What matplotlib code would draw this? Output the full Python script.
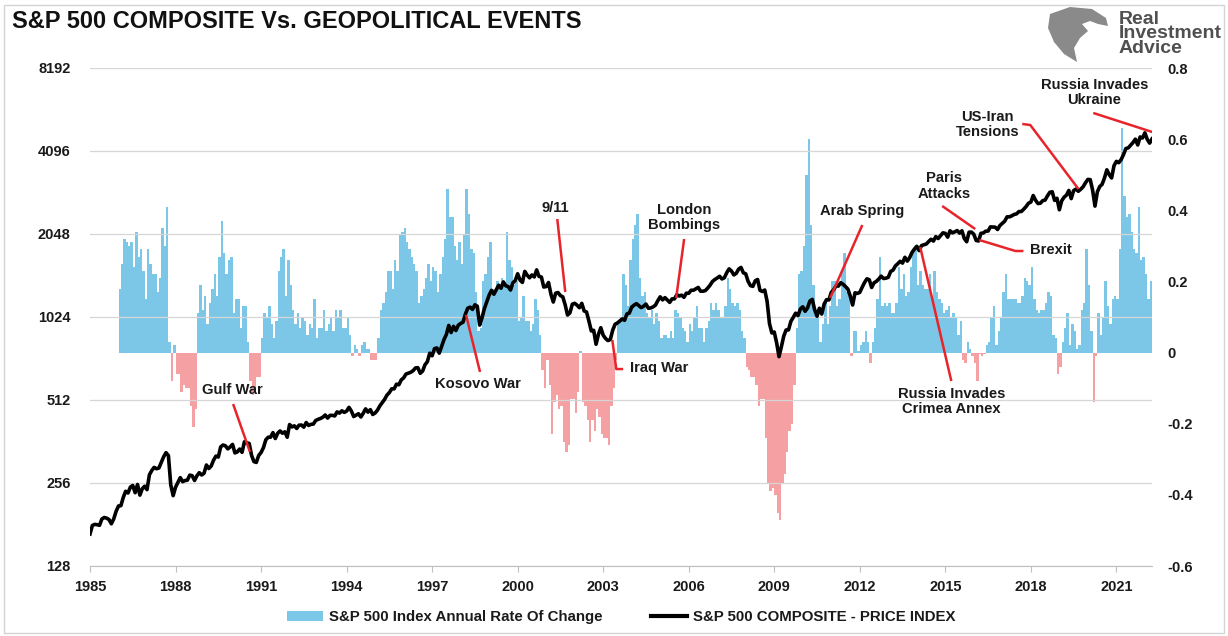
import numpy as np
import matplotlib
matplotlib.use("Agg")
import matplotlib.pyplot as plt
from matplotlib.patches import Patch, Polygon, Rectangle
from matplotlib.lines import Line2D
from matplotlib.ticker import FixedLocator, NullLocator

plt.rcParams['font.family'] = ['Liberation Sans', 'DejaVu Sans']

# === data: S&P 500 month-end closes, Dec 1984 .. Mar 2022 ===
sp500_close = [
    167.2,
    179.6, 181.2, 180.7, 179.8, 189.6, 191.9, 190.9, 188.6, 182.1, 189.8, 202.2, 211.3,   # 1985
    211.8, 226.9, 238.9, 235.5, 247.4, 250.8, 236.1, 252.9, 231.3, 244.0, 249.2, 242.2,   # 1986
    274.1, 284.2, 291.7, 288.4, 290.1, 304.0, 318.7, 329.8, 321.8, 251.8, 230.3, 247.1,   # 1987
    257.1, 267.8, 258.9, 261.3, 262.2, 273.5, 272.0, 261.5, 271.9, 279.0, 273.7, 277.7,   # 1988
    297.5, 288.9, 294.9, 309.6, 320.5, 318.0, 346.1, 351.5, 349.2, 340.4, 346.0, 353.4,   # 1989
    329.1, 331.9, 339.9, 330.8, 361.2, 358.0, 356.2, 322.6, 306.1, 304.0, 322.2, 330.2,   # 1990
    343.9, 367.1, 375.2, 375.3, 389.8, 371.2, 387.8, 395.4, 387.9, 392.5, 375.2, 417.1,   # 1991
    408.8, 412.7, 403.7, 414.9, 415.4, 408.1, 424.2, 414.0, 417.8, 418.7, 431.4, 435.7,   # 1992
    438.8, 443.4, 451.7, 440.2, 450.2, 450.5, 448.1, 463.6, 458.9, 467.8, 461.8, 466.5,   # 1993
    481.6, 467.1, 445.8, 450.9, 456.5, 444.3, 458.3, 475.5, 462.7, 472.4, 453.7, 459.3,   # 1994
    470.4, 487.4, 500.7, 514.7, 533.4, 544.8, 562.1, 561.9, 584.4, 581.5, 605.4, 615.9,   # 1995
    636.0, 640.4, 645.5, 654.2, 669.1, 670.6, 640.0, 652.0, 687.3, 705.3, 757.0, 740.7,   # 1996
    786.2, 790.8, 757.1, 801.3, 848.3, 885.1, 954.3, 899.5, 947.3, 914.6, 955.4, 970.4,   # 1997
    980.3, 1049.3, 1101.8, 1111.8, 1090.8, 1133.8, 1120.7, 957.3, 1017.0, 1098.7, 1163.6, 1229.2,  # 1998
    1279.6, 1238.3, 1286.4, 1335.2, 1301.8, 1372.7, 1328.7, 1320.4, 1282.7, 1362.9, 1388.9, 1469.3,  # 1999
    1394.5, 1366.4, 1498.6, 1452.4, 1420.6, 1454.6, 1430.8, 1517.7, 1436.5, 1429.4, 1315.2, 1320.3,  # 2000
    1366.0, 1239.9, 1160.3, 1249.5, 1255.8, 1224.4, 1211.2, 1133.6, 1040.9, 1059.8, 1139.5, 1148.1,  # 2001
    1130.2, 1106.7, 1147.4, 1076.9, 1067.1, 989.8, 911.6, 916.1, 815.3, 885.8, 936.3, 879.8,   # 2002
    855.7, 841.2, 848.2, 916.9, 963.6, 974.5, 990.3, 1008.0, 996.0, 1050.7, 1058.2, 1111.9,   # 2003
    1131.1, 1144.9, 1126.2, 1107.3, 1120.7, 1140.8, 1101.7, 1104.2, 1114.6, 1130.2, 1173.8, 1211.9,  # 2004
    1181.3, 1203.6, 1180.6, 1156.9, 1191.5, 1191.3, 1234.2, 1220.3, 1228.8, 1207.0, 1249.5, 1248.3,  # 2005
    1280.1, 1280.7, 1294.9, 1310.6, 1270.1, 1270.2, 1276.7, 1303.8, 1335.9, 1377.9, 1400.6, 1418.3,  # 2006
    1438.2, 1406.8, 1420.9, 1482.4, 1530.6, 1503.4, 1455.3, 1474.0, 1526.8, 1549.4, 1481.1, 1468.4,  # 2007
    1378.6, 1330.6, 1322.7, 1385.6, 1400.4, 1280.0, 1267.4, 1282.8, 1166.4, 968.8, 896.2, 903.3,   # 2008
    825.9, 735.1, 797.9, 872.8, 919.1, 919.3, 987.5, 1020.6, 1057.1, 1036.2, 1095.6, 1115.1,   # 2009
    1073.9, 1104.5, 1169.4, 1186.7, 1089.4, 1030.7, 1101.6, 1049.3, 1141.2, 1183.3, 1180.6, 1257.6,  # 2010
    1286.1, 1327.2, 1325.8, 1363.6, 1345.2, 1320.6, 1292.3, 1218.9, 1131.4, 1253.3, 1247.0, 1257.6,  # 2011
    1312.4, 1365.7, 1408.5, 1397.9, 1310.3, 1362.2, 1379.3, 1406.6, 1440.7, 1412.2, 1416.2, 1426.2,  # 2012
    1498.1, 1514.7, 1569.2, 1597.6, 1630.7, 1606.3, 1685.7, 1633.0, 1681.6, 1756.5, 1805.8, 1848.4,  # 2013
    1782.6, 1859.5, 1872.3, 1883.9, 1923.6, 1960.2, 1930.7, 2003.4, 1972.3, 2018.1, 2067.6, 2058.9,  # 2014
    1995.0, 2104.5, 2067.9, 2085.5, 2107.4, 2063.1, 2103.8, 1972.2, 1920.0, 2079.4, 2080.4, 2043.9,  # 2015
    1940.2, 1932.2, 2059.7, 2065.3, 2097.0, 2098.9, 2173.6, 2171.0, 2168.3, 2126.2, 2199.0, 2238.8,  # 2016
    2278.9, 2363.6, 2362.7, 2384.2, 2411.8, 2423.4, 2470.3, 2471.7, 2519.4, 2575.3, 2647.6, 2673.6,  # 2017
    2823.8, 2713.8, 2640.9, 2648.1, 2705.3, 2718.4, 2816.3, 2901.5, 2914.0, 2711.7, 2760.2, 2506.9,  # 2018
    2704.1, 2784.5, 2834.4, 2945.8, 2752.1, 2941.8, 2980.4, 2926.5, 2976.7, 3037.6, 3141.0, 3230.8,  # 2019
    3225.5, 2954.2, 2584.6, 2912.4, 3044.3, 3100.3, 3271.1, 3500.3, 3363.0, 3270.0, 3621.6, 3756.1,  # 2020
    3714.2, 3811.2, 3972.9, 4181.2, 4204.1, 4297.5, 4395.3, 4522.7, 4307.5, 4605.4, 4567.0, 4766.2,  # 2021
    4515.6, 4373.9, 4530.4,                                                                # 2022
]

# === data: annual rate of change, Jan 1986 .. Mar 2022 ===
annual_change = [
    0.18, 0.25, 0.32, 0.31, 0.30, 0.31, 0.24, 0.34, 0.27, 0.29, 0.23, 0.15,    # 1986
    0.29, 0.25, 0.22, 0.22, 0.17, 0.21, 0.35, 0.30, 0.41, 0.03, -0.08, 0.02,   # 1987
    -0.06, -0.06, -0.11, -0.09, -0.10, -0.10, -0.15, -0.21, -0.16, 0.11, 0.19, 0.12,  # 1988
    0.16, 0.08, 0.14, 0.18, 0.22, 0.16, 0.27, 0.37, 0.28, 0.22, 0.26, 0.27,    # 1989
    0.11, 0.15, 0.15, 0.07, 0.13, 0.13, 0.03, -0.08, -0.12, -0.11, -0.07, -0.07,  # 1990
    0.04, 0.11, 0.10, 0.13, 0.08, 0.04, 0.09, 0.23, 0.27, 0.29, 0.16, 0.26,    # 1991
    0.19, 0.12, 0.08, 0.11, 0.07, 0.10, 0.09, 0.05, 0.08, 0.07, 0.15, 0.04,    # 1992
    0.07, 0.07, 0.12, 0.06, 0.08, 0.10, 0.06, 0.12, 0.10, 0.12, 0.07, 0.07,    # 1993
    0.10, 0.05, -0.01, 0.02, 0.01, -0.01, 0.02, 0.03, 0.01, 0.01, -0.02, -0.02,  # 1994
    -0.02, 0.04, 0.12, 0.14, 0.17, 0.23, 0.23, 0.18, 0.26, 0.23, 0.33, 0.34,   # 1995
    0.35, 0.31, 0.29, 0.27, 0.25, 0.23, 0.14, 0.16, 0.18, 0.21, 0.25, 0.20,    # 1996
    0.24, 0.23, 0.17, 0.22, 0.27, 0.32, 0.46, 0.38, 0.38, 0.30, 0.26, 0.31,    # 1997
    0.25, 0.33, 0.46, 0.39, 0.29, 0.28, 0.17, 0.06, 0.07, 0.20, 0.22, 0.27,    # 1998
    0.31, 0.18, 0.17, 0.20, 0.19, 0.21, 0.19, 0.34, 0.26, 0.24, 0.19, 0.20,    # 1999
    0.09, 0.10, 0.16, 0.09, 0.09, 0.06, 0.08, 0.15, 0.12, 0.05, -0.05, -0.10,  # 2000
    -0.02, -0.09, -0.23, -0.14, -0.12, -0.16, -0.15, -0.25, -0.28, -0.26, -0.13, -0.13,  # 2001
    -0.17, -0.11, 0.005, -0.14, -0.15, -0.19, -0.25, -0.19, -0.22, -0.16, -0.18, -0.23,  # 2002
    -0.24, -0.24, -0.26, -0.15, -0.10, -0.02, 0.09, 0.10, 0.22, 0.19, 0.13, 0.26,  # 2003
    0.32, 0.36, 0.39, 0.21, 0.16, 0.17, 0.11, 0.10, 0.12, 0.08, 0.11, 0.09,    # 2004
    0.04, 0.05, 0.05, 0.04, 0.06, 0.04, 0.12, 0.11, 0.10, 0.07, 0.06, 0.03,    # 2005
    0.08, 0.06, 0.10, 0.13, 0.07, 0.07, 0.03, 0.07, 0.09, 0.14, 0.12, 0.14,    # 2006
    0.12, 0.10, 0.10, 0.13, 0.21, 0.18, 0.14, 0.13, 0.14, 0.12, 0.06, 0.04,    # 2007
    -0.04, -0.05, -0.07, -0.07, -0.09, -0.15, -0.13, -0.13, -0.24, -0.37, -0.39, -0.38,  # 2008
    -0.40, -0.45, -0.47, -0.37, -0.34, -0.28, -0.22, -0.20, -0.09, 0.07, 0.22, 0.23,  # 2009
    0.30, 0.50, 0.60, 0.36, 0.19, 0.12, 0.12, 0.03, 0.08, 0.14, 0.08, 0.13,    # 2010
    0.20, 0.20, 0.13, 0.15, 0.23, 0.28, 0.17, 0.16, -0.01, 0.06, 0.06, 0.004,  # 2011
    0.02, 0.03, 0.06, 0.03, -0.03, 0.03, 0.07, 0.15, 0.27, 0.13, 0.14, 0.13,   # 2012
    0.14, 0.11, 0.11, 0.14, 0.24, 0.18, 0.22, 0.16, 0.17, 0.24, 0.28, 0.30,    # 2013
    0.19, 0.23, 0.19, 0.18, 0.18, 0.22, 0.15, 0.23, 0.17, 0.15, 0.14, 0.11,    # 2014
    0.12, 0.13, 0.10, 0.11, 0.10, 0.05, 0.09, -0.02, -0.03, 0.03, 0.01, -0.01,  # 2015
    -0.03, -0.08, -0.004, -0.01, -0.004, 0.02, 0.03, 0.10, 0.13, 0.02, 0.06, 0.10,  # 2016
    0.17, 0.22, 0.15, 0.15, 0.15, 0.15, 0.14, 0.14, 0.16, 0.21, 0.20, 0.19,    # 2017
    0.24, 0.15, 0.12, 0.11, 0.12, 0.12, 0.14, 0.17, 0.16, 0.05, 0.04, -0.06,   # 2018
    -0.04, 0.03, 0.07, 0.11, 0.02, 0.08, 0.06, 0.01, 0.02, 0.12, 0.14, 0.29,   # 2019
    0.19, 0.06, -0.14, -0.01, 0.11, 0.05, 0.10, 0.20, 0.13, 0.08, 0.15, 0.16,  # 2020
    0.15, 0.29, 0.63, 0.44, 0.38, 0.39, 0.34, 0.29, 0.28, 0.41, 0.26, 0.27,    # 2021
    0.22, 0.15, 0.20,                                                           # 2022
]

price_ticks = [128, 256, 512, 1024, 2048, 4096, 8192]
change_ticks = [-0.6, -0.4, -0.2, 0, 0.2, 0.4, 0.6, 0.8]
change_tick_labels = ['-0.6', '-0.4', '-0.2', '0', '0.2', '0.4', '0.6', '0.8']
year_ticks = list(range(1985, 2022, 3))

# event labels: text, text position (year, price), connector path (years, prices)
events = [
    ("Gulf War", (1989.98, 557), [1990.02, 1990.61], [495, 332]),
    ("Kosovo War", (1998.61, 585), [1998.68, 1998.19], [647, 1041]),
    ("9/11", (2001.32, 2545), [2001.39, 2001.67], [2321, 1262]),
    ("London\nBombings", (2005.84, 2350), [2005.84, 2005.56], [1965, 1200]),
    ("Iraq War", (2004.98, 669), [2003.70, 2003.46, 2003.32], [663, 663, 845]),
    ("Arab Spring", (2012.09, 2482), [2012.09, 2010.96], [2208, 1200]),
    ("Paris\nAttacks", (2014.96, 3058), [2014.89, 2016.05], [2588, 2135]),
    ("Brexit", (2018.72, 1792), [2017.74, 2017.46, 2016.19], [1777, 1777, 1948]),
    ("Russia Invades\nCrimea Annex", (2015.21, 506), [2015.21, 2014.12], [600, 1837]),
    ("US-Iran\nTensions", (2016.49, 5111), [2017.70, 2017.98, 2019.67], [5133, 5089, 2983]),
    ("Russia Invades\nUkraine", (2020.23, 6676), [2020.19, 2022.26], [5627, 4800]),
]

blue = '#7cc6e8'
pink = '#f5a0a3'
red = '#e8242b'
txt = '#1a1a1a'

# === x positions (month-end) ===
price_x = 1985 + np.arange(len(sp500_close)) / 12
change_x = price_x[len(price_x) - len(annual_change):] - 1 / 24
change = np.array(annual_change)

fig = plt.figure(figsize=(12.28, 6.36), dpi=100)
fig.patches.append(Rectangle((0.003, 0.004), 0.994, 0.988, transform=fig.transFigure,
                             fill=False, edgecolor='#d4d4d4', lw=1))
ax = fig.add_axes([90 / 1228, 1 - 566 / 636, (1152 - 90) / 1228, (566 - 68) / 636])
ax2 = ax.twinx()

# bars (right axis)
ax.bar(change_x, change, width=1 / 12, color=np.where(change >= 0, blue, pink),
       linewidth=0)
ax.set_ylim(-0.6, 0.8)
ax.set_xlim(1985, 2022.25)
ax.yaxis.tick_right()
ax.set_yticks(change_ticks)
ax.set_yticklabels(change_tick_labels)
ax.tick_params(axis='y', length=0, pad=11, labelsize=10.5, labelcolor=txt)
ax.set_xticks(year_ticks)
ax.set_xticklabels([str(y) for y in year_ticks])
ax.tick_params(axis='x', length=4, color='#bfbfbf', pad=6, labelsize=10.5, labelcolor=txt)
for lab in ax.get_xticklabels() + ax.get_yticklabels():
    lab.set_fontweight('bold')
for s in ['top', 'left', 'right']:
    ax.spines[s].set_visible(False)
ax.spines['bottom'].set_color('#bfbfbf')

# price line (left axis, log2)
ax2.set_yscale('log', base=2)
ax2.set_ylim(128, 8192)
ax2.yaxis.set_major_locator(FixedLocator(price_ticks))
ax2.yaxis.set_minor_locator(NullLocator())
ax2.set_yticklabels([str(t) for t in price_ticks])
ax2.yaxis.tick_left()
ax2.tick_params(axis='y', length=0, pad=14, labelsize=10.5, labelcolor=txt)
for lab in ax2.get_yticklabels():
    lab.set_fontweight('bold')
for s in ax2.spines.values():
    s.set_visible(False)
ax2.grid(axis='y', color='#d6d6d6', lw=0.9)
ax2.plot(price_x, sp500_close, color='black', lw=2.6, zorder=3)

# event labels
for label, (tx, ty), lx, ly in events:
    ax2.plot(lx, ly, color=red, lw=1.8, zorder=4, solid_capstyle='butt')
    ax2.text(tx, ty, label, ha='center', va='center', fontsize=10.6, fontweight='bold',
             color=txt, linespacing=1.12, zorder=5)

# title and logo
fig.text(12 / 1228, 1 - 22 / 636, 'S&P 500 COMPOSITE Vs. GEOPOLITICAL EVENTS',
         fontsize=17, fontweight='bold', va='center', color='#111111')
fig.text(1119 / 1228, 1 - 34 / 636, 'Real\nInvestment\nAdvice', fontsize=14,
         fontweight='bold', va='center', ha='left', color='#505050', linespacing=0.82)
eagle = [(1050, 14), (1070, 7), (1092, 9), (1106, 18), (1108, 26), (1098, 24), (1090, 21),
         (1082, 24), (1088, 31), (1080, 38), (1074, 48), (1077, 62), (1064, 54), (1054, 42),
         (1048, 28)]
fig.patches.append(Polygon([(x / 1228, 1 - y / 636) for x, y in eagle], closed=True,
                           transform=fig.transFigure, facecolor='#8a8a8a', edgecolor='none'))

# legend
handles = [Patch(facecolor=blue, edgecolor='none'), Line2D([0], [0], color='black', lw=3)]
labels = ['S&P 500 Index Annual Rate Of Change', 'S&P 500 COMPOSITE - PRICE INDEX']
fig.legend(handles, labels, loc='center', bbox_to_anchor=(0.506, 1 - 617 / 636), ncol=2,
           frameon=False, prop={'weight': 'bold', 'size': 10.8}, handlelength=2.4,
           handletextpad=0.4, columnspacing=3.2, labelcolor=txt)

fig.savefig('out.png', dpi=100)
